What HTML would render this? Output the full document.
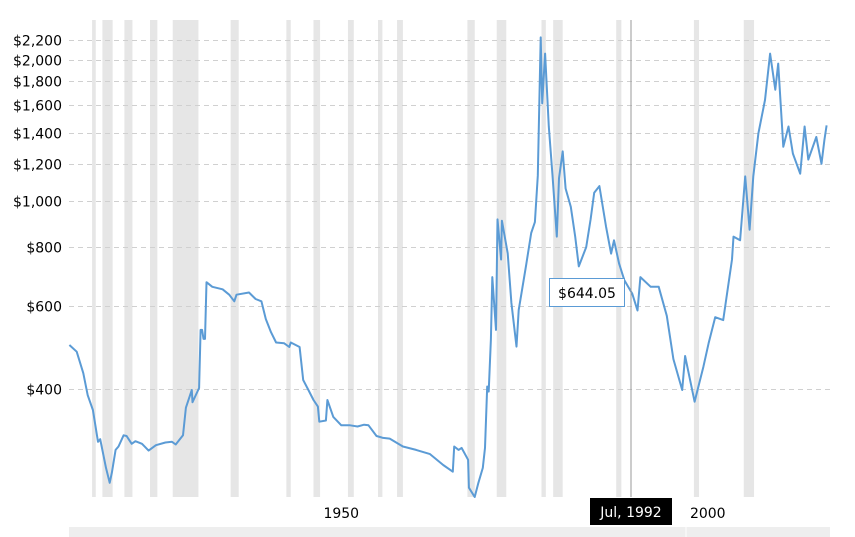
<!DOCTYPE html>
<html><head><meta charset="utf-8"><style>
html,body{margin:0;padding:0;background:#fff;}
svg{display:block;font-family:"DejaVu Sans","Liberation Sans",sans-serif;}
</style></head><body>
<svg id="chart" width="855" height="537" viewBox="0 0 855 537" xmlns="http://www.w3.org/2000/svg">
<g id="bands"></g>
<g id="grid"></g>
<g id="ylabels"></g>
<g id="xlabels"></g>
<path id="line" fill="none" stroke="#5b9bd5" stroke-width="2" stroke-linejoin="round"></path>
<line x1="631" y1="20" x2="631" y2="497" stroke="#999" stroke-width="1"></line>
<g>
<rect x="549.5" y="278.5" width="75" height="28" fill="#fff" stroke="#5b9bd5"></rect>
<text x="587" y="298" font-size="14" text-anchor="middle" fill="#000">$644.05</text>
</g>
<g>
<rect x="590" y="498" width="82" height="27" fill="#000"></rect>
<text x="631" y="517" font-size="14" text-anchor="middle" fill="#fff">Jul, 1992</text>
</g>
<g>
<rect x="69" y="527" width="761" height="10" fill="#eee"></rect>
<line x1="686" y1="527" x2="686" y2="537" stroke="#fff"></line>
</g>
</svg>
<script>
const years=[1915.5,1916.5,1917.4,1918,1918.7,1919.4,1919.7,1920.5,1921,1921.3,1921.8,1922.2,1922.9,1923.3,1924,1924.5,1925.4,1926.3,1927.3,1928.6,1929.5,1930,1931,1931.4,1932.2,1932.3,1933.2,1933.4,1933.6,1933.8,1934,1934.2,1935,1936.4,1937.3,1938,1938.3,1940,1940.9,1941.7,1942.3,1943,1943.7,1944.8,1945.5,1945.7,1946.9,1947.4,1948.1,1948.8,1949.4,1949.6,1950.5,1950.7,1951.5,1952.6,1953.8,1954.8,1955.7,1956.3,1957.4,1958.3,1959.2,1961,1962.8,1964.7,1966.5,1967.8,1968,1968.6,1969,1969.9,1970,1970.8,1971.3,1971.9,1972.2,1972.5,1972.7,1973,1973.2,1973.7,1973.9,1974.4,1974.5,1975.3,1975.8,1976.5,1976.8,1977.8,1978.5,1979,1979.4,1979.8,1980,1980.4,1980.9,1981.4,1982,1982.3,1982.8,1983.2,1983.9,1984.5,1985,1986,1986.6,1987.1,1987.8,1988.7,1989.4,1989.8,1990.5,1991.2,1992.3,1993,1993.4,1994.8,1995.9,1997,1997.9,1999.1,1999.5,2000.8,2002,2002.7,2003.6,2004.7,2005.9,2006.1,2007,2007.7,2008.3,2008.8,2009.5,2010.4,2011.1,2011.8,2012.2,2012.9,2013.6,2014.2,2015.2,2015.8,2016.3,2017.4,2018.1,2018.5,2018.8];
const prices=[496,480,432,388,361,309,313,272,253,266,297,302,319,318,306,310,306,296,304,308,309,305,319,365,398,375,402,534,534,511,511,674,659,651,634,614,634,641,621,614,563,528,502,500,491,502,491,418,398,379,367,341,343,379,349,335,335,333,336,335,318,315,314,302,297,291,276,267,302,297,300,283,247,236,253,272,300,405,395,510,691,534,916,753,910,776,609,492,588,732,857,904,1134,2228,1615,2059,1442,1144,842,1120,1277,1065,974,842,728,800,916,1043,1078,885,775,827,738,681,637,587,691,659,659,572,463,398,470,376,446,500,568,560,753,842,827,1130,871,1131,1395,1641,2059,1726,1961,1306,1442,1263,1145,1442,1227,1370,1202,1350,1450];
const recStart=[1918.6,1920.0,1923.0,1926.5,1929.6,1937.5,1945.1,1948.8,1953.5,1957.6,1960.2,1969.8,1973.8,1979.9,1981.5,1990.1,2000.7,2007.5];
const recEnd=[1919.1,1921.4,1924.1,1927.5,1933.1,1938.6,1945.7,1949.7,1954.3,1958.2,1961.0,1970.8,1975.1,1980.5,1982.8,1990.8,2001.4,2008.9];
const yTicks=[400,600,800,1000,1200,1400,1600,1800,2000,2200];
const yTickLabels=["$400","$600","$800","$1,000","$1,200","$1,400","$1,600","$1,800","$2,000","$2,200"];
const xTickYears=[1950,2000];
const xTickLabels=["1950","2000"];

const NS="http://www.w3.org/2000/svg";
function xs(yr){return 205+(yr-1934)*7.33;}
function ys(p){return 389-204.7*Math.log(p/400);}
function mk(tag,attrs,parent){const e=document.createElementNS(NS,tag);for(const k in attrs)e.setAttribute(k,attrs[k]);parent.appendChild(e);return e;}

const bands=document.getElementById('bands');
recStart.forEach((s,i)=>{
  const r=mk('rect',{x:xs(s),y:20,width:xs(recEnd[i])-xs(s),height:477,fill:'#e6e6e6'},bands);
  
  
});
const grid=document.getElementById('grid'),yl=document.getElementById('ylabels');
yTicks.forEach((v,i)=>{
  const y=Math.round(ys(v))+0.5;
  const l=mk('line',{x1:69,x2:830,y1:y,y2:y,stroke:'#d0d0d0','stroke-dasharray':'5,4'},grid);
  
  
  const t=mk('text',{x:62,y:y+5,'font-size':14,'text-anchor':'end',fill:'#000'},yl);
  t.textContent=yTickLabels[i];
  
  
});
const xl=document.getElementById('xlabels');
xTickYears.forEach((yr,i)=>{
  const t=mk('text',{x:xs(yr)+19,y:518,'font-size':14,'text-anchor':'middle',fill:'#000'},xl);
  t.textContent=xTickLabels[i];
  
  
});
let d='';
years.forEach((yr,i)=>{d+=(i?'L':'M')+xs(yr).toFixed(1)+','+ys(prices[i]).toFixed(1);});
document.getElementById('line').setAttribute('d',d);
</script>
</body></html>
